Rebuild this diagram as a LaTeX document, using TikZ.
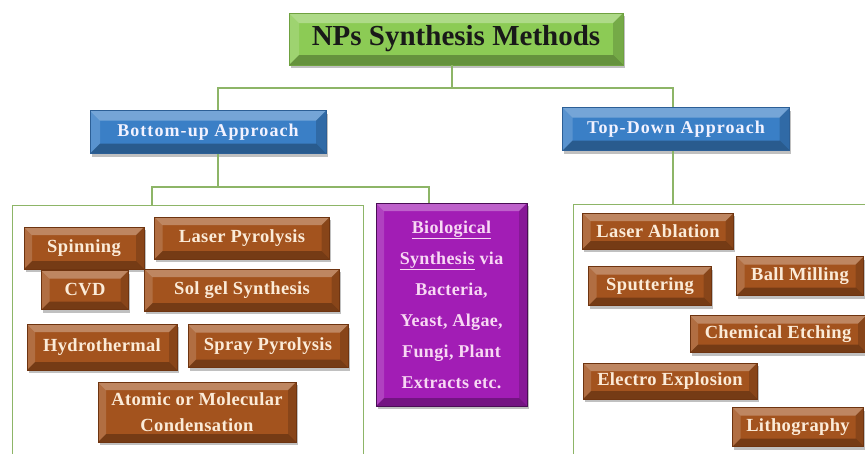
\documentclass[tikz,border=0pt]{standalone}
\usepackage{fontspec}
\setmainfont{Liberation Serif}
\newfontfamily\spacedfont[LetterSpace=2]{Liberation Serif}
\newfontfamily\widefont[LetterSpace=6]{Liberation Serif}
\usetikzlibrary{shadows}
\definecolor{linegreen}{HTML}{8DB567}
\definecolor{titlegreen}{HTML}{8CCB55}
\definecolor{titleedge}{HTML}{6FA140}
\definecolor{bluefill}{HTML}{3A7FC6}
\definecolor{blueedge}{HTML}{2C5F96}
\definecolor{brownfill}{HTML}{A3531E}
\definecolor{brownedge}{HTML}{6E3410}
\definecolor{browntext}{HTML}{FBEBD8}
\definecolor{purplefill}{HTML}{A21DB5}
\definecolor{purpleedge}{HTML}{4A0D55}
\definecolor{purpletext}{HTML}{F8D8F4}
\newcommand\drawbevel[1]{%
  \fill[white,opacity=.30] (path picture bounding box.north west) -- (path picture bounding box.north east) -- ([shift={(-#1,-#1)}]path picture bounding box.north east) -- ([shift={(#1,-#1)}]path picture bounding box.north west) -- cycle;
  \fill[white,opacity=.16] (path picture bounding box.north west) -- ([shift={(#1,-#1)}]path picture bounding box.north west) -- ([shift={(#1,#1)}]path picture bounding box.south west) -- (path picture bounding box.south west) -- cycle;
  \fill[black,opacity=.28] (path picture bounding box.south west) -- (path picture bounding box.south east) -- ([shift={(-#1,#1)}]path picture bounding box.south east) -- ([shift={(#1,#1)}]path picture bounding box.south west) -- cycle;
  \fill[black,opacity=.16] (path picture bounding box.north east) -- ([shift={(-#1,-#1)}]path picture bounding box.north east) -- ([shift={(-#1,#1)}]path picture bounding box.south east) -- (path picture bounding box.south east) -- cycle;
}
\tikzset{
  conn/.style={draw=linegreen, line width=1.3pt},
  container/.style={draw=linegreen, line width=1.1pt},
  boxshadow/.style={drop shadow={shadow xshift=1.5pt, shadow yshift=-3pt, opacity=.35, fill=black!70}},
  titlebox/.style={boxshadow, fill=titlegreen, draw=titleedge, line width=.6pt, inner sep=0pt,
    path picture={\drawbevel{10pt}}, font=\fontsize{29}{32}\selectfont\bfseries, text=black!90},
  bluebox/.style={boxshadow, fill=bluefill, draw=blueedge, line width=.6pt, inner sep=0pt,
    path picture={\drawbevel{10pt}}, font=\widefont\fontsize{18}{21}\selectfont\bfseries, text=white!95!blue},
  brownbox/.style={boxshadow, fill=brownfill, draw=brownedge, line width=.6pt, inner sep=0pt,
    path picture={\drawbevel{8pt}}, font=\spacedfont\fontsize{18.5}{26}\selectfont\bfseries, text=browntext, align=center},
  purplebox/.style={boxshadow, fill=purplefill, draw=purpleedge, line width=1pt, inner sep=0pt,
    path picture={\drawbevel{8pt}}, font=\spacedfont\fontsize{18}{31}\selectfont\bfseries, text=purpletext, align=center},
}
\begin{document}
\begin{tikzpicture}[x=1pt, y=-1pt]
\useasboundingbox (0,0) rectangle (865,453);
\clip (0,0) rectangle (865,453);
\fill[white] (0,0) rectangle (865,453);

% containers
\node[container, minimum width=351pt, minimum height=280pt, anchor=north west, inner sep=0pt] (lc) at (12,205) {};
\node[container, minimum width=330pt, minimum height=280pt, anchor=north west, inner sep=0pt] (rc) at (573,204) {};

% top level
\node[titlebox, minimum width=334pt, minimum height=52pt] (title) at (456,39) {NPs Synthesis Methods};
\node[bluebox, minimum width=236pt, minimum height=43pt] (bu) at (208,132) {Bottom-up Approach};
\node[bluebox, minimum width=227pt, minimum height=43pt] (td) at (676,129) {Top-Down Approach};
\node[purplebox, minimum width=151pt, minimum height=203pt] (bio) at (451.5,304.5)
  {\underline{Biological}\\ \underline{Synthesis} via\\ Bacteria,\\ Yeast, Algae,\\ Fungi, Plant\\ Extracts etc.};

% bottom-up methods
\node[brownbox, minimum width=120pt, minimum height=42pt] (spin) at (84,248) {Spinning};
\node[brownbox, minimum width=175pt, minimum height=42pt] (lp) at (242,238) {Laser Pyrolysis};
\node[brownbox, minimum width=87pt, minimum height=39pt] (cvd) at (85,290) {CVD};
\node[brownbox, minimum width=195pt, minimum height=42pt] (sg) at (242,290) {Sol gel Synthesis};
\node[brownbox, minimum width=150pt, minimum height=46pt] (hy) at (102,347) {Hydrothermal};
\node[brownbox, minimum width=160pt, minimum height=43pt] (spy) at (268,346) {Spray Pyrolysis};
\node[brownbox, minimum width=198pt, minimum height=60pt] (am) at (197,412) {Atomic or Molecular\\ Condensation};

% top-down methods
\node[brownbox, minimum width=151pt, minimum height=36pt] (la) at (658,231) {Laser Ablation};
\node[brownbox, minimum width=127pt, minimum height=39pt] (bm) at (800,276) {Ball Milling};
\node[brownbox, minimum width=123pt, minimum height=39pt] (sput) at (650,286) {Sputtering};
\node[brownbox, minimum width=176pt, minimum height=37pt] (ce) at (778,334) {Chemical Etching};
\node[brownbox, minimum width=174pt, minimum height=36pt] (ee) at (670,381) {Electro Explosion};
\node[brownbox, minimum width=131pt, minimum height=39pt] (li) at (798,427) {Lithography};

% connectors
\coordinate (j1) at (452,88);
\coordinate (j2) at (218,187);
\draw[conn] ([xshift=-4pt]title.south) -- (j1);
\draw[conn] (j1) -| ([xshift=10pt]bu.north);
\draw[conn] (j1) -| ([xshift=-3pt]td.north);
\draw[conn] ([xshift=10pt]bu.south) -- (j2);
\draw[conn] (j2) -| (lc.north -| 152,0);
\draw[conn] (j2) -| (bio.north -| 429,0);
\draw[conn] ([xshift=-3pt]td.south) -- (rc.north -| 673,0);
\end{tikzpicture}
\end{document}
